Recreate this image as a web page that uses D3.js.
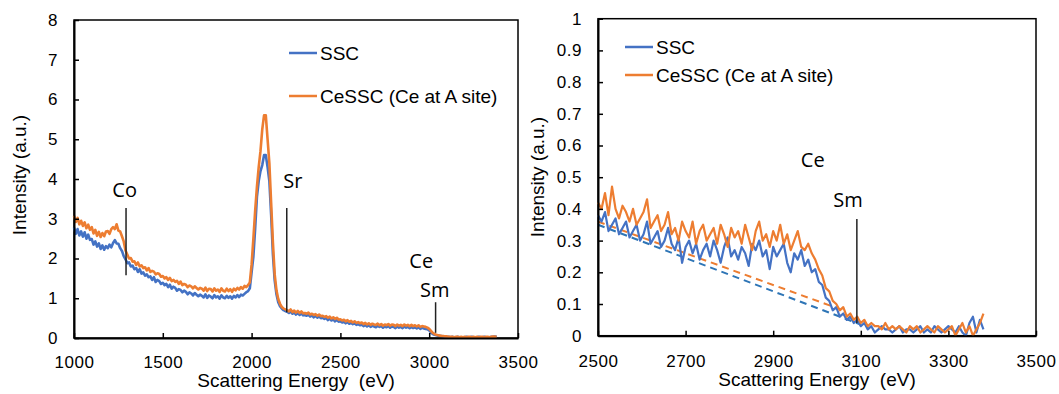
<!DOCTYPE html>
<html>
<head>
<meta charset="utf-8">
<script src="https://cdn.jsdelivr.net/npm/d3@7/dist/d3.min.js"></script>
<style>
  html, body { margin: 0; padding: 0; background: #fff; }
  svg { display: block; }
  .tick text { font-family: "Liberation Sans", Arial, sans-serif; font-size: 17px; fill: #000; letter-spacing: 0.5px; }
  .title { font-family: "Liberation Sans", Arial, sans-serif; font-size: 19px; fill: #000; }
  .legend { font-family: "Liberation Sans", Arial, sans-serif; font-size: 19px; fill: #000; }
  .annot { font-family: "Open Sans", "Noto Sans", sans-serif; font-size: 20px; fill: #000; }
</style>
</head>
<body>
<svg id="chart" width="1059" height="394"></svg>
<script>
// ---------------- DATA ----------------
const seriesNames = ["SSC", "CeSSC (Ce at A site)"];
const seriesColors = ["#4472C4", "#ED7D31"];
const dashColors = ["#2E75B6", "#ED7D31"];

// Left panel: energy grid 1000..3380 step 10 eV
const leftEnergy = d3.range(1000, 3381, 10);
const leftSSC = [
  2.78,2.62,2.74,2.58,2.68,2.55,2.66,2.50,2.60,2.47,
  2.49,2.35,2.43,2.30,2.38,2.24,2.33,2.22,2.31,2.26,
  2.35,2.28,2.39,2.46,2.38,2.37,2.26,2.19,2.06,1.98,
  1.88,1.90,1.80,1.82,1.73,1.76,1.66,1.73,1.62,1.65,
  1.57,1.60,1.53,1.55,1.46,1.53,1.41,1.46,1.43,1.36,
  1.39,1.33,1.36,1.28,1.34,1.24,1.29,1.26,1.19,1.23,
  1.21,1.15,1.19,1.16,1.10,1.15,1.12,1.07,1.13,1.09,
  1.05,1.09,1.06,1.02,1.10,1.01,1.07,1.04,1.00,1.08,
  1.02,1.05,0.99,1.07,1.02,1.00,1.06,1.01,1.05,0.99,
  1.06,1.02,1.08,1.03,1.09,1.07,1.11,1.15,1.18,1.25,
  1.65,2.05,2.75,3.55,3.95,4.20,4.35,4.60,4.60,4.30,
  3.95,3.10,2.10,1.45,1.10,0.90,0.80,0.74,0.70,0.68,
  0.66,0.63,0.67,0.61,0.64,0.59,0.63,0.58,0.62,0.57,
  0.58,0.56,0.59,0.54,0.57,0.52,0.56,0.51,0.54,0.50,
  0.51,0.48,0.50,0.45,0.49,0.44,0.47,0.42,0.46,0.41,
  0.42,0.39,0.41,0.37,0.40,0.36,0.38,0.35,0.37,0.33,
  0.35,0.32,0.34,0.30,0.33,0.29,0.32,0.28,0.31,0.29,
  0.27,0.31,0.28,0.30,0.26,0.29,0.27,0.30,0.26,0.29,
  0.28,0.25,0.29,0.26,0.28,0.25,0.29,0.26,0.28,0.25,
  0.28,0.25,0.27,0.24,0.27,0.23,0.26,0.24,0.23,0.22,
  0.19,0.14,0.10,0.08,0.07,0.06,0.05,0.05,0.04,0.04,
  0.03,0.03,0.02,0.03,0.02,0.02,0.03,0.02,0.02,0.02,
  0.02,0.03,0.02,0.02,0.03,0.02,0.02,0.02,0.03,0.02,
  0.02,0.03,0.02,0.02,0.02,0.03,0.03,0.04,0.03
];
const leftCeSSC = [
  3.08,2.92,3.02,2.86,2.95,2.82,2.91,2.76,2.85,2.72,
  2.79,2.63,2.72,2.57,2.67,2.54,2.64,2.56,2.68,2.69,
  2.62,2.74,2.79,2.74,2.86,2.70,2.68,2.56,2.43,2.20,
  2.10,2.00,2.01,1.92,1.93,1.84,1.90,1.80,1.83,1.76,
  1.78,1.70,1.76,1.66,1.69,1.67,1.60,1.63,1.61,1.54,
  1.56,1.50,1.53,1.46,1.51,1.43,1.46,1.41,1.44,1.36,
  1.42,1.33,1.36,1.34,1.28,1.32,1.30,1.25,1.30,1.26,
  1.22,1.26,1.24,1.19,1.27,1.18,1.24,1.23,1.17,1.25,
  1.19,1.22,1.16,1.25,1.19,1.17,1.24,1.18,1.23,1.16,
  1.24,1.20,1.26,1.22,1.28,1.24,1.31,1.28,1.33,1.40,
  1.85,2.50,3.20,3.80,4.30,4.70,5.25,5.60,5.60,5.00,
  4.40,3.40,2.40,1.60,1.20,0.98,0.86,0.78,0.74,0.72,
  0.70,0.67,0.72,0.65,0.69,0.64,0.68,0.63,0.67,0.62,
  0.63,0.61,0.64,0.59,0.61,0.58,0.60,0.56,0.59,0.55,
  0.56,0.53,0.55,0.51,0.54,0.49,0.52,0.48,0.51,0.46,
  0.47,0.44,0.46,0.42,0.45,0.41,0.43,0.39,0.42,0.38,
  0.40,0.37,0.39,0.35,0.38,0.34,0.37,0.33,0.36,0.34,
  0.33,0.36,0.32,0.35,0.31,0.34,0.32,0.35,0.31,0.34,
  0.33,0.30,0.34,0.31,0.33,0.30,0.34,0.31,0.33,0.30,
  0.33,0.30,0.32,0.29,0.32,0.28,0.30,0.29,0.28,0.26,
  0.23,0.18,0.13,0.10,0.08,0.07,0.06,0.05,0.05,0.04,
  0.04,0.03,0.03,0.03,0.02,0.03,0.03,0.02,0.03,0.02,
  0.03,0.02,0.03,0.03,0.02,0.03,0.02,0.03,0.02,0.03,
  0.03,0.02,0.03,0.03,0.02,0.03,0.04,0.03,0.04
];

// Right panel: energy grid 2500..3380 step 8 eV
const rightEnergy = d3.range(2500, 3381, 8);
const rightSSC = [
  0.38,0.36,0.39,0.33,0.35,0.37,0.32,0.34,0.36,0.31,
  0.33,0.35,0.30,0.32,0.36,0.29,0.31,0.33,0.28,0.30,
  0.34,0.29,0.27,0.31,0.23,0.28,0.30,0.26,0.29,0.24,
  0.27,0.29,0.25,0.30,0.27,0.23,0.28,0.31,0.25,0.27,
  0.24,0.28,0.26,0.22,0.29,0.27,0.30,0.25,0.27,0.21,
  0.28,0.25,0.27,0.29,0.23,0.20,0.26,0.24,0.27,0.22,
  0.24,0.20,0.21,0.17,0.16,0.12,0.11,0.08,0.09,0.06,
  0.07,0.05,0.06,0.04,0.05,0.03,0.04,0.02,0.03,0.01,
  0.02,0.03,0.02,0.02,0.01,0.02,0.03,0.01,0.02,0.02,
  0.01,0.02,0.03,0.01,0.02,0.01,0.03,0.02,0.01,0.02,
  0.03,0.02,0.01,0.03,0.01,0.00,0.04,0.06,0.01,0.05,
  0.02
];
const rightCeSSC = [
  0.42,0.40,0.45,0.38,0.47,0.40,0.37,0.41,0.39,0.36,
  0.40,0.35,0.37,0.39,0.43,0.34,0.36,0.38,0.33,0.35,
  0.39,0.32,0.34,0.30,0.36,0.33,0.31,0.36,0.29,0.33,
  0.35,0.30,0.32,0.34,0.29,0.35,0.32,0.28,0.34,0.31,
  0.33,0.29,0.35,0.31,0.27,0.33,0.36,0.30,0.32,0.28,
  0.33,0.30,0.35,0.29,0.32,0.27,0.30,0.33,0.28,0.27,
  0.29,0.26,0.24,0.21,0.19,0.15,0.14,0.11,0.10,0.08,
  0.09,0.06,0.07,0.05,0.06,0.04,0.05,0.03,0.04,0.03,
  0.03,0.02,0.04,0.02,0.03,0.02,0.03,0.02,0.01,0.03,
  0.02,0.03,0.01,0.02,0.03,0.02,0.01,0.03,0.02,0.01,
  0.02,0.03,0.00,0.02,0.04,0.01,0.03,0.00,0.02,0.04,
  0.07
];

// Dashed background lines (right panel)
const dashSSCEnergy = [2500, 3100];
const dashSSCValue = [0.35, 0.035];
const dashCeEnergy = [2500, 3040];
const dashCeValue = [0.36, 0.09];

// Tick values
const leftXTicks = [1000, 1500, 2000, 2500, 3000, 3500];
const leftYTicks = [0, 1, 2, 3, 4, 5, 6, 7, 8];
const rightXTicks = [2500, 2700, 2900, 3100, 3300, 3500];
const rightYTicks = [0, 0.1, 0.2, 0.3, 0.4, 0.5, 0.6, 0.7, 0.8, 0.9, 1];
const rightYTickLabels = ["0","0.1","0.2","0.3","0.4","0.5","0.6","0.7","0.8","0.9","1"];

// Annotations (data units)
const leftAnnotText = ["Co", "Sr", "Ce", "Sm"];
const leftAnnotE = [1216, 2178, 2888, 2948];
const leftAnnotV = [3.55, 3.77, 1.76, 1.03];
const leftMarkE = [1293, 2198, 3036];
const leftMarkTop = [3.27, 3.27, 0.90];
const leftMarkBottom = [1.58, 0.65, 0.13];
const rightAnnotText = ["Ce", "Sm"];
const rightAnnotE = [2963, 3037];
const rightAnnotV = [0.532, 0.406];
const rightMarkE = [3091];
const rightMarkTop = [0.368];
const rightMarkBottom = [0.04];

const xTitle = "Scattering Energy  (eV)";
const yTitle = "Intensity (a.u.)";

// ---------------- DRAW ----------------
const svg = d3.select("#chart");

function panel(cfg) {
  const g = svg.append("g");
  const x = d3.scaleLinear().domain(cfg.xDomain).range([cfg.left, cfg.right]);
  const y = d3.scaleLinear().domain(cfg.yDomain).range([cfg.bottom, cfg.top]);

  // frame
  g.append("rect")
    .attr("x", cfg.left).attr("y", cfg.top)
    .attr("width", cfg.right - cfg.left).attr("height", cfg.bottom - cfg.top)
    .attr("fill", "none").attr("stroke", "#000").attr("stroke-width", 1.5);

  // dashed lines
  (cfg.dashes || []).forEach(dsh => {
    const pts = dsh.e.map((e, i) => [e, dsh.v[i]]);
    g.append("path")
      .attr("d", d3.line().x(p => x(p[0])).y(p => y(p[1]))(pts))
      .attr("fill", "none").attr("stroke", dsh.color)
      .attr("stroke-width", 2).attr("stroke-dasharray", "7,5");
  });

  // series
  cfg.series.forEach((s, k) => {
    const pts = cfg.energy.map((e, i) => [e, s[i]]).filter(p => p[1] !== undefined);
    g.append("path")
      .attr("d", d3.line().x(p => x(p[0])).y(p => y(p[1]))(pts))
      .attr("fill", "none").attr("stroke", seriesColors[k])
      .attr("stroke-width", cfg.lineWidth).attr("stroke-linejoin", "round");
  });

  // axes
  const xa = g.append("g").attr("transform", `translate(0,${cfg.bottom})`)
    .call(d3.axisBottom(x).tickValues(cfg.xTicks).tickFormat(d3.format("d"))
      .tickSize(-5).tickSizeOuter(0).tickPadding(cfg.xPad));
  const ya = g.append("g").attr("transform", `translate(${cfg.left},0)`)
    .call(d3.axisLeft(y).tickValues(cfg.yTicks).tickFormat(cfg.yFormat)
      .tickSize(-5).tickSizeOuter(0).tickPadding(16));
  [xa, ya].forEach(a => {
    a.select(".domain").attr("stroke", "#000").attr("stroke-width", 2);
    a.selectAll(".tick line").attr("stroke", "#000").attr("stroke-width", 1.5);
    a.attr("font-size", null).attr("font-family", null);
  });

  // axis titles
  g.append("text").attr("class", "title")
    .attr("x", (cfg.left + cfg.right) / 2).attr("y", cfg.xTitleY)
    .attr("text-anchor", "middle").style("white-space", "pre").text(xTitle);
  g.append("text").attr("class", "title")
    .attr("transform", `translate(${cfg.yTitleX},${cfg.yTitleCY}) rotate(-90)`)
    .attr("text-anchor", "middle").attr("dy", "0.35em").text(yTitle);

  // annotation marker lines
  cfg.markE.forEach((e, i) => {
    g.append("line")
      .attr("x1", x(e)).attr("x2", x(e))
      .attr("y1", y(cfg.markTop[i])).attr("y2", y(cfg.markBottom[i]))
      .attr("stroke", "#222").attr("stroke-width", 1.5);
  });
  cfg.annotText.forEach((t, i) => {
    g.append("text").attr("class", "annot")
      .attr("x", x(cfg.annotE[i])).attr("y", y(cfg.annotV[i])).text(t);
  });

  // legend
  seriesNames.forEach((n, k) => {
    const ly = cfg.legendY[k];
    g.append("line")
      .attr("x1", cfg.legendX).attr("x2", cfg.legendX + 28)
      .attr("y1", ly).attr("y2", ly)
      .attr("stroke", seriesColors[k]).attr("stroke-width", 2.5);
    g.append("text").attr("class", "legend")
      .attr("x", cfg.legendX + 31).attr("y", ly).attr("dy", "0.35em").text(n);
  });
}

panel({
  xDomain: [1000, 3500], yDomain: [0, 8],
  left: 74, right: 518, top: 20, bottom: 338,
  energy: leftEnergy, series: [leftSSC, leftCeSSC], lineWidth: 2.6,
  xTicks: leftXTicks, yTicks: leftYTicks, yFormat: d3.format("d"),
  xPad: 18, xTitleY: 387, yTitleX: 19, yTitleCY: 175,
  markE: leftMarkE, markTop: leftMarkTop, markBottom: leftMarkBottom,
  annotText: leftAnnotText, annotE: leftAnnotE, annotV: leftAnnotV,
  legendX: 289, legendY: [53, 96]
});

panel({
  xDomain: [2500, 3500], yDomain: [0, 1],
  left: 598, right: 1036, top: 18.7, bottom: 335.7,
  energy: rightEnergy, series: [rightSSC, rightCeSSC], lineWidth: 2.2,
  dashes: [
    { e: dashSSCEnergy, v: dashSSCValue, color: dashColors[0] },
    { e: dashCeEnergy, v: dashCeValue, color: dashColors[1] }
  ],
  xTicks: rightXTicks, yTicks: rightYTicks,
  yFormat: (d, i) => rightYTickLabels[i],
  xPad: 19, xTitleY: 386, yTitleX: 537.5, yTitleCY: 177,
  markE: rightMarkE, markTop: rightMarkTop, markBottom: rightMarkBottom,
  annotText: rightAnnotText, annotE: rightAnnotE, annotV: rightAnnotV,
  legendX: 625, legendY: [47, 75]
});
</script>
</body>
</html>
